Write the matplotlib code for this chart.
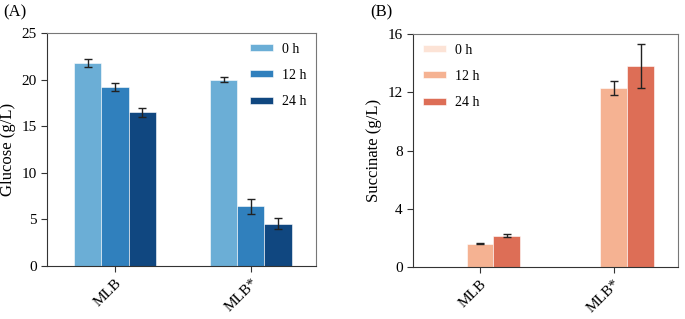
import numpy as np
import matplotlib
matplotlib.use("Agg")
from matplotlib import pyplot as plt

strains = ["MLB", "MLB*"]
times = ["0 h", "12 h", "24 h"]

glucose = [[21.8, 20.0], [19.2, 6.4], [16.5, 4.55]]
glucose_err = [[0.45, 0.3], [0.45, 0.8], [0.5, 0.55]]

succinate = [[0.0, 0.0], [1.6, 12.3], [2.15, 13.8]]
succinate_err = [[0.0, 0.0], [0.04, 0.5], [0.1, 1.5]]

blues = ["#6BAED6", "#3080BD", "#104780"]
reds = ["#FCE3D6", "#F5B292", "#DD6E56"]

plt.rcParams["font.family"] = ["Liberation Serif", "DejaVu Serif"]
plt.rcParams["font.size"] = 11


def draw_panel(ax, values, errors, colors, ylabel, ymax, ystep, legend_loc, legend_anchor):
    x = np.arange(len(strains))
    width = 0.2
    for i, t in enumerate(times):
        vals = values[i]
        errs = [e if v > 0 else np.nan for v, e in zip(vals, errors[i])]
        ax.bar(x + (i - 1) * width, vals, width, color=colors[i], label=t,
               edgecolor="white", linewidth=0.4)
        ax.errorbar(x + (i - 1) * width, vals, yerr=errs, fmt="none",
                    ecolor="#222222", elinewidth=1.0, capsize=3, capthick=1.0)
    ax.set_xlim(-0.5, 1.48)
    ax.set_ylim(0, ymax)
    ax.set_yticks(np.arange(0, ymax + 0.1, ystep))
    ax.set_xticks(x)
    ax.set_xticklabels(strains, rotation=45, ha="right", rotation_mode="anchor")
    ax.set_ylabel(ylabel, fontsize=12)
    for s in ["left", "bottom"]:
        ax.spines[s].set_color("#333333")
    for s in ["top", "right"]:
        ax.spines[s].set_color("#777777")
    ax.tick_params(axis="both", direction="out", length=4, color="#333333", labelsize=11)
    ax.legend(loc=legend_loc, bbox_to_anchor=legend_anchor, frameon=False,
              handlelength=1.7, handleheight=0.4, labelspacing=0.95,
              handletextpad=0.6, fontsize=10, borderaxespad=0.3)


fig = plt.figure(figsize=(6.85, 3.19), dpi=100)
ax1 = fig.add_axes([47 / 685, 1 - 266 / 319, 269 / 685, 233 / 319])
ax2 = fig.add_axes([413 / 685, 1 - 267 / 319, 265 / 685, 233 / 319])

draw_panel(ax1, glucose, glucose_err, blues, "Glucose (g/L)", 25, 5,
           "upper right", (1.0, 1.0))
draw_panel(ax2, succinate, succinate_err, reds, "Succinate (g/L)", 16, 4,
           "upper left", (0.0, 1.0))

fig.text(3 / 685, 1 - 12 / 319, "(A)", fontsize=12, va="center")
fig.text(370 / 685, 1 - 12 / 319, "(B)", fontsize=12, va="center")

fig.savefig("out.png", dpi=100)
